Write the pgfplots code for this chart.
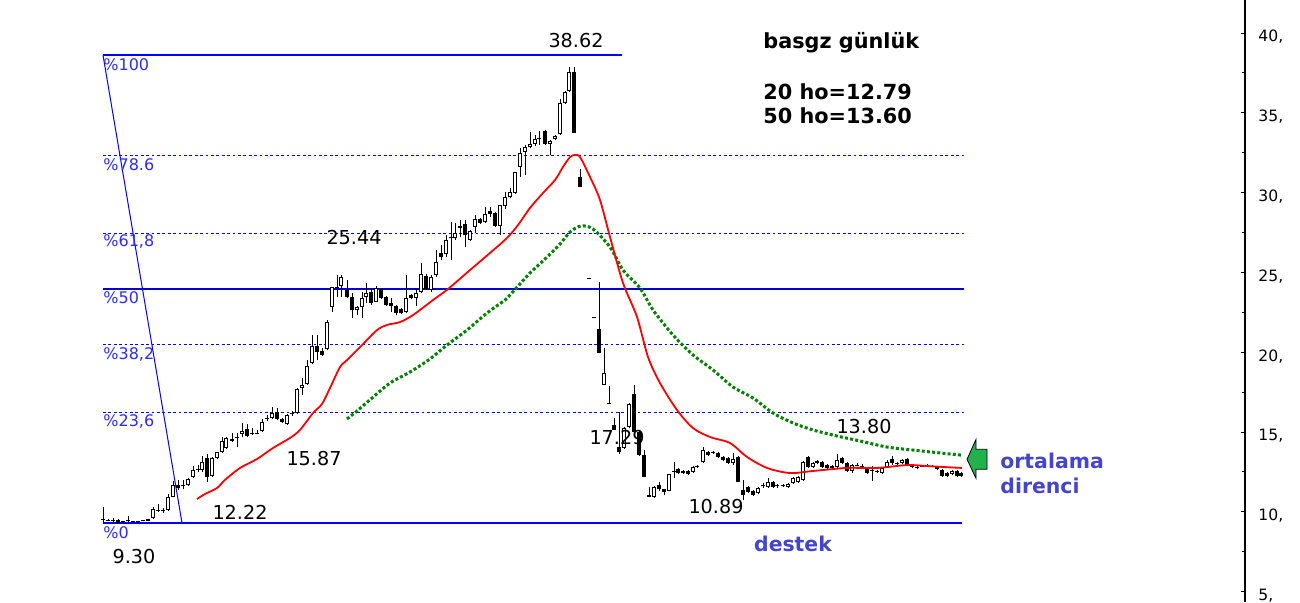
\documentclass[border=0pt]{standalone}
\usepackage{fontspec}
\setmainfont{DejaVu Sans}
\usepackage{pgfplots}
\usepackage{pgfplotstable}
\pgfplotsset{compat=1.18}

\definecolor{fibblue}{RGB}{0,0,255}
\definecolor{fibmid}{RGB}{0,0,210}
\definecolor{fibtext}{RGB}{45,45,255}
\definecolor{mared}{RGB}{255,0,0}
\definecolor{magreen}{RGB}{0,128,0}
\definecolor{arrowgreen}{RGB}{34,177,76}
\definecolor{noteblue}{RGB}{68,68,204}

\pgfplotsset{
  candle/.style={only marks, mark=*, mark size=0pt, mark options={draw=none, fill=none},
    forget plot, error bars/.cd, y dir=plus, y explicit, error mark=none,
    error bar style={#1}},
  fibdash/.style={fibblue, line width=0.6pt, dash pattern=on 1.35pt off 1.35pt, forget plot},
  fibsolid/.style={#1, line width=0.6pt, forget plot},
}

% daily candles: x position, open, high, low, close
\pgfplotstableread{
x o h l c
148 9.43 9.58 9.40 9.55
153 9.61 10.30 9.55 10.18
168 10.11 11.12 10.05 10.93
173 10.93 11.93 10.90 11.68
188 11.68 12.12 11.62 12.06
193 12.18 12.87 12.12 12.62
202 12.62 13.50 12.50 13.12
212 12.25 13.44 12.18 13.37
217 13.37 13.75 13.31 13.75
222 13.75 14.69 13.69 14.44
226 14.00 14.69 13.94 14.63
242 14.88 15.57 14.69 15.06
262 15.06 15.82 15.00 15.63
272 15.88 16.57 15.82 16.19
287 15.50 16.13 15.44 16.07
297 16.19 17.76 16.13 17.70
302 17.76 18.39 17.32 17.92
307 18.01 19.51 17.95 19.14
312 19.33 21.08 19.26 20.39
327 20.20 22.00 20.14 21.89
332 22.83 24.09 22.52 24.09
341 24.15 24.84 23.46 24.71
357 22.65 22.90 22.33 22.83
362 22.83 23.77 22.15 23.40
366 23.46 24.33 23.08 23.71
376 23.15 24.15 23.15 24.02
406 22.52 24.84 22.46 23.40
416 23.40 23.96 22.90 23.71
421 23.77 25.59 23.71 24.90
431 23.90 24.84 23.77 24.71
436 24.84 26.41 24.71 25.65
446 26.16 27.35 25.97 27.03
455 27.16 28.10 27.03 27.47
470 27.03 27.66 26.97 27.60
475 27.85 28.60 27.47 28.35
485 28.16 29.10 28.10 28.66
500 27.91 29.23 27.35 29.23
505 29.16 30.04 28.97 29.73
510 29.73 30.29 29.66 30.04
515 29.98 31.29 29.91 31.29
520 31.61 32.80 30.98 32.48
525 32.55 32.99 31.11 32.86
530 32.86 33.80 32.80 33.05
535 33.05 33.61 32.92 33.36
550 33.05 33.30 32.36 33.24
555 33.36 33.61 33.30 33.55
560 33.67 35.87 33.61 35.62
565 35.62 36.37 35.56 36.31
569 36.37 37.87 36.31 37.56
604 17.95 20.26 17.95 18.70
624 14.00 15.30 13.94 15.25
629 15.32 16.82 15.25 16.76
654 10.93 11.62 10.87 11.56
669 11.31 12.40 11.28 12.37
693 12.50 12.87 12.43 12.81
703 13.12 14.06 13.06 13.87
733 13.06 13.69 12.93 13.31
758 11.18 11.56 11.12 11.49
768 11.56 12.12 11.49 11.87
788 11.56 11.80 11.49 11.74
793 11.81 12.18 11.74 12.12
798 11.87 12.25 11.81 12.18
803 12.00 13.18 11.93 13.12
813 12.81 13.12 12.75 13.06
837 12.81 13.62 12.68 13.25
852 12.56 13.00 12.43 12.93
882 12.43 12.81 12.37 12.75
887 12.81 13.25 12.75 13.12
902 13.06 13.31 13.00 13.25
952 12.37 12.62 12.31 12.56
}\upcandles

\pgfplotstableread{
x o h l c
118 9.49 9.55 9.30 9.32
178 11.68 12.00 11.37 11.49
207 13.37 13.62 11.87 12.18
232 14.56 14.94 14.38 14.44
247 15.19 15.50 14.69 14.75
277 16.26 16.51 15.75 15.82
282 15.82 15.91 15.57 15.63
317 20.39 21.08 19.51 20.01
322 20.08 20.26 19.77 19.83
347 23.90 24.52 23.40 23.46
352 23.46 23.71 22.15 22.65
371 23.77 24.02 22.96 23.08
381 23.96 24.02 23.34 23.40
386 23.46 23.52 22.90 22.96
391 23.08 23.40 22.52 22.90
396 22.90 22.96 22.33 22.46
401 22.71 22.77 22.40 22.46
411 23.59 23.65 23.34 23.40
426 24.78 24.90 23.90 23.96
441 26.22 26.72 25.78 25.97
460 27.91 28.28 27.22 27.78
465 28.03 28.28 26.59 27.35
480 28.35 28.41 28.03 28.10
490 28.85 29.10 28.47 28.66
495 28.72 28.78 27.85 27.91
545 33.86 33.92 32.99 33.05
574 37.56 37.87 33.74 33.74
580 30.98 31.48 30.35 30.35
599 21.46 24.40 19.95 19.95
614 15.44 15.88 15.13 15.13
619 14.06 16.26 13.62 13.75
634 17.38 17.95 15.00 15.00
639 15.00 15.06 13.50 13.56
644 13.56 13.87 12.18 12.18
649 11.05 11.56 10.93 10.93
659 11.68 11.87 11.31 11.43
664 11.43 11.45 11.05 11.24
678 12.68 12.75 12.37 12.43
683 12.56 12.62 12.37 12.43
688 12.56 12.62 12.31 12.37
708 13.75 13.81 13.50 13.56
718 13.69 13.75 13.37 13.44
723 13.44 13.50 13.18 13.25
728 13.37 13.44 13.00 13.06
738 13.44 13.50 11.87 11.87
743 11.37 12.00 10.74 11.05
748 11.56 11.62 11.18 11.24
753 11.31 11.37 11.00 11.05
773 11.87 11.93 11.50 11.56
808 13.44 13.50 12.75 12.81
817 13.18 13.25 13.00 13.06
822 13.12 13.18 12.75 12.81
827 12.93 13.00 12.68 12.75
832 12.87 12.93 12.70 12.75
842 13.37 13.44 13.00 13.06
847 13.06 13.12 12.50 12.56
867 12.75 12.81 12.37 12.43
892 13.31 13.50 12.93 13.06
907 13.31 13.37 12.87 12.93
912 12.93 13.00 12.75 12.81
937 12.81 12.87 12.62 12.68
942 12.62 12.68 12.18 12.25
947 12.43 12.50 12.20 12.25
957 12.56 12.62 12.20 12.25
961 12.43 12.50 12.20 12.25
}\downcandles

\pgfplotstableread{
x o h l c
103 9.49 10.30 9.30 9.55
108 9.43 9.55 9.40 9.49
113 9.43 9.61 9.36 9.49
123 9.36 9.45 9.30 9.42
128 9.40 9.72 9.36 9.46
133 9.36 9.42 9.36 9.42
138 9.36 9.42 9.36 9.42
143 9.40 9.46 9.40 9.46
158 10.08 10.49 9.99 10.14
163 10.08 10.24 9.93 10.14
183 11.62 12.00 11.43 11.68
198 12.65 12.93 12.50 12.71
237 14.63 14.94 14.06 14.69
252 14.91 15.25 14.81 14.97
257 14.91 15.13 14.88 14.97
267 15.85 16.07 15.70 15.91
292 16.16 16.32 16.00 16.22
337 24.05 24.84 23.46 24.11
451 27.13 28.16 25.78 27.19
539 33.39 33.86 32.99 33.45
589 24.62 24.68 24.62 24.68
594 22.12 22.18 22.12 22.18
609 16.79 17.88 16.79 16.85
674 12.53 13.12 12.12 12.59
697 12.84 12.95 12.75 12.90
713 13.66 13.81 13.60 13.72
763 11.60 11.80 11.50 11.66
777 11.60 11.74 11.50 11.66
783 11.62 11.74 11.56 11.68
857 12.90 13.05 12.85 12.96
862 12.84 13.00 12.78 12.90
872 12.59 12.87 11.93 12.65
877 12.53 12.65 12.45 12.59
897 13.03 13.15 12.95 13.09
917 12.78 12.90 12.70 12.84
922 12.84 12.95 12.78 12.90
927 12.90 13.00 12.85 12.96
932 12.84 12.95 12.78 12.90
}\dojicandles

% 20 day average
\pgfplotstableread{
x v
197 10.80
205 11.12
217 11.49
225 12.00
240 12.75
257 13.31
273 14.00
290 14.63
300 15.13
313 16.19
322 16.76
330 17.76
340 19.07
347 19.51
362 20.45
377 21.39
387 21.71
400 21.89
413 22.33
433 23.27
448 23.96
470 25.15
490 26.22
507 27.16
518 27.97
530 29.04
543 29.98
555 30.79
563 31.61
570 32.23
575 32.36
580 32.23
590 30.98
600 29.54
610 27.22
623 24.34
637 22.21
648 19.70
660 18.07
677 16.38
693 15.25
710 14.69
730 14.31
747 13.44
767 12.75
790 12.43
813 12.56
847 12.75
877 12.75
907 12.93
927 12.87
943 12.81
962 12.75
}\maTwenty

% 50 day average
\pgfplotstableread{
x v
347 15.82
357 16.32
372 17.13
390 18.07
410 18.76
430 19.58
447 20.45
467 21.39
487 22.46
505 23.27
510 23.59
530 24.96
545 25.84
560 26.78
570 27.53
581 27.91
593 27.72
610 26.59
623 25.15
640 24.02
653 22.65
673 21.08
693 19.83
713 18.89
733 17.82
753 17.13
773 16.19
793 15.57
813 15.13
837 14.75
860 14.44
887 14.06
913 13.87
940 13.69
962 13.55
}\maFifty

\begin{document}
\begin{tikzpicture}
\path[use as bounding box] (0,0) rectangle (650pt,301pt);
\begin{axis}[
    at={(0,0)}, anchor=south west,
    scale only axis, width=622.5pt, height=301pt,
    xmin=0, xmax=1245, ymin=4.35, ymax=42.07,
    axis x line=none, axis y line*=right,
    xtick=\empty,
    ytick={5,10,15,20,25,30,35,40},
    yticklabels={{5,},{10,},{15,},{20,},{25,},{30,},{35,},{40,}},
    minor ytick={7.5,12.5,17.5,22.5,27.5,32.5,37.5},
    tick align=inside, major tick length=2.2pt, minor tick length=1.6pt,
    y axis line style={black, line width=0.7pt},
    ytick style={black, line width=0.5pt},
    yticklabel style={font=\fontsize{7.8}{8}\selectfont, anchor=west, inner sep=0pt, xshift=6.5pt, yshift=-2pt},
    clip=false,
]
% fibonacci levels
\addplot[fibsolid=fibblue] coordinates {(103,38.62) (622,38.62)};
\addplot[fibdash] coordinates {(103,32.35) (964,32.35)};
\addplot[fibdash] coordinates {(103,27.42) (964,27.42)};
\addplot[fibsolid=fibmid] coordinates {(103,23.96) (964,23.96)};
\addplot[fibdash] coordinates {(103,20.50) (964,20.50)};
\addplot[fibdash] coordinates {(103,16.22) (964,16.22)};
\addplot[fibsolid=fibblue] coordinates {(103,9.30) (962,9.30)};
\addplot[fibblue, line width=0.5pt, forget plot] coordinates {(103,38.62) (182,9.30)};

% wicks
\addplot[candle={black, line width=0.5pt}]
  table[x=x, y=l, y error plus expr={\thisrow{h}-\thisrow{l}}] {\upcandles};
\addplot[candle={black, line width=0.5pt}]
  table[x=x, y=l, y error plus expr={\thisrow{h}-\thisrow{l}}] {\downcandles};
\addplot[candle={black, line width=0.5pt}]
  table[x=x, y=l, y error plus expr={\thisrow{h}-\thisrow{l}}] {\dojicandles};

% bodies
\addplot[candle={black, line width=2.2pt}]
  table[x=x, y=c, y error plus expr={\thisrow{o}-\thisrow{c}}] {\downcandles};
\addplot[candle={black, line width=2.2pt}]
  table[x=x, y=o, y error plus expr={\thisrow{c}-\thisrow{o}}] {\dojicandles};
\addplot[candle={black, line width=2.2pt}]
  table[x=x, y=o, y error plus expr={\thisrow{c}-\thisrow{o}}] {\upcandles};
\addplot[candle={white, line width=1.2pt}]
  table[x=x, y expr={\thisrow{o}+0.06}, y error plus expr={max(\thisrow{c}-\thisrow{o}-0.12,0)}] {\upcandles};

% moving averages
\addplot[magreen, line width=1.5pt, dash pattern=on 1.5pt off 1.1pt, smooth, forget plot]
  table[x=x, y=v] {\maFifty};
\addplot[mared, line width=0.9pt, smooth, forget plot] table[x=x, y=v] {\maTwenty};

% level labels
\begin{scope}[every node/.style={font=\fontsize{8}{9}\selectfont, text=fibtext, anchor=west, inner sep=0pt}]
\node at (axis cs:103,38.00) {\%100};
\node at (axis cs:103,31.73) {\%78.6};
\node at (axis cs:103,26.91) {\%61,8};
\node at (axis cs:103,23.40) {\%50};
\node at (axis cs:103,19.89) {\%38,2};
\node at (axis cs:103,15.69) {\%23,6};
\node at (axis cs:103,8.67) {\%0};
\end{scope}

\begin{scope}[every node/.style={font=\fontsize{9.6}{11}\selectfont, text=black, inner sep=0pt}]
\node at (axis cs:576,39.56) {38.62};
\node at (axis cs:354,27.16) {25.44};
\node at (axis cs:314,13.37) {15.87};
\node at (axis cs:240,9.99) {12.22};
\node at (axis cs:134,7.23) {9.30};
\node at (axis cs:617,14.63) {17.29};
\node at (axis cs:716,10.36) {10.89};
\node at (axis cs:864,15.32) {13.80};
\end{scope}

\begin{scope}[every node/.style={font=\bfseries\fontsize{10.4}{12}\selectfont, text=black, anchor=west, inner sep=0pt}]
\node at (axis cs:763,39.38) {basgz günlük};
\node at (axis cs:763,36.31) {20 ho=12.79};
\node at (axis cs:763,34.80) {50 ho=13.60};
\end{scope}

\draw[fill=arrowgreen, draw=black, line width=0.4pt]
  (axis cs:967,13.29) -- (axis cs:976,14.54) -- (axis cs:976,13.92) -- (axis cs:987,13.92)
  -- (axis cs:987,12.67) -- (axis cs:976,12.67) -- (axis cs:976,12.10) -- cycle;

\begin{scope}[every node/.style={font=\bfseries\fontsize{10.2}{12}\selectfont, text=noteblue, inner sep=0pt}]
\node[anchor=west] at (axis cs:1000,13.18) {ortalama};
\node[anchor=west] at (axis cs:1000,11.62) {direnci};
\node at (axis cs:793,7.98) {destek};
\end{scope}
\end{axis}
\end{tikzpicture}
\end{document}
